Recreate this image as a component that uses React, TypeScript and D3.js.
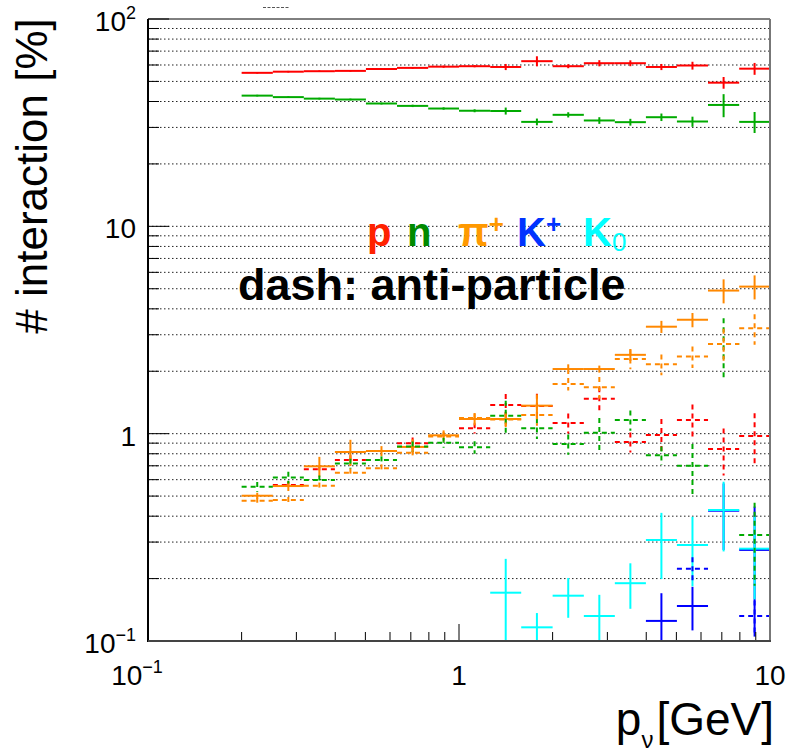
import React, { useEffect } from 'react'
import * as d3 from 'd3'

const width = 787
const height = 755
const plot = { left: 148, right: 770, top: 19, bottom: 641 }

// momentum bins [GeV], 0.1 decade wide
const binEdges = [0.2, 0.252, 0.317, 0.399, 0.502, 0.632, 0.796, 1.0, 1.26, 1.585, 2.0, 2.52, 3.17, 3.99, 5.02, 6.32, 7.96, 10.0]

// particles (solid)
const protonVal = [55.0, 55.7, 56.0, 56.2, 57.4, 58.1, 58.9, 59.2, 58.7, 62.6, 59.2, 61.2, 61.2, 58.7, 59.6, 49.3, 57.6]
const protonErr = [0.5, 0.5, 0.5, 0.5, 0.6, 0.6, 0.7, 0.7, 2.0, 3.5, 1.3, 2.1, 2.0, 2.0, 2.6, 3.2, 3.8]
const neutronVal = [42.7, 42.0, 41.3, 40.9, 39.1, 38.1, 37.0, 36.1, 36.0, 31.9, 34.5, 32.4, 31.8, 33.6, 32.0, 38.5, 31.9]
const neutronErr = [0.4, 0.4, 0.4, 0.4, 0.4, 0.5, 0.5, 0.6, 1.4, 1.2, 1.0, 1.2, 1.2, 1.4, 1.8, 4.9, 3.7]
const piPlusVal = [0.502, 0.559, 0.696, 0.816, 0.825, 0.863, 0.982, 1.177, 1.177, 1.365, 2.05, 2.05, 2.40, 3.28, 3.54, 4.90, 5.12]
const piPlusErr = [0.017, 0.03, 0.077, 0.118, 0.046, 0.077, 0.055, 0.08, 0.1, 0.18, 0.11, 0.08, 0.16, 0.22, 0.28, 0.65, 0.68]
const kPlusVal = [null, null, null, null, null, null, null, null, null, null, null, null, null, 0.125, 0.1475, 0.425, 0.275]
const kPlusErr = [0, 0, 0, 0, 0, 0, 0, 0, 0, 0, 0, 0, 0, 0.045, 0.035, 0.15, 0.17]
const k0Val = [null, null, null, null, null, null, null, null, 0.171, 0.1164, 0.1654, 0.132, 0.19, 0.307, 0.2904, 0.4284, 0.2788]
const k0Err = [0, 0, 0, 0, 0, 0, 0, 0, 0.078, 0.02, 0.036, 0.035, 0.047, 0.108, 0.107, 0.158, 0.12]

// anti-particles (dashed)
const pbarVal = [null, 0.566, 0.673, 0.747, null, 0.899, null, 1.062, 1.375, 1.36, 1.126, 1.475, 0.912, 0.986, 1.164, 0.844, 0.975]
const pbarErr = [0, 0.02, 0.03, 0.04, 0, 0.06, 0, 0.06, 0.18, 0.2, 0.125, 0.2, 0.1, 0.19, 0.22, 0.215, 0.28]
const nbarVal = [0.555, 0.615, 0.598, 0.717, 0.747, 0.866, 0.905, 0.860, 1.221, 1.062, 0.892, 1.011, 1.164, 0.787, 0.701, 2.707, 0.3245]
const nbarErr = [0.03, 0.04, 0.03, 0.04, 0.03, 0.05, 0.05, 0.06, 0.22, 0.12, 0.1, 0.18, 0.13, 0.08, 0.19, 0.9, 0.14]
const piMinusVal = [0.475, 0.479, 0.561, 0.648, 0.681, 0.810, 0.97, 1.19, 1.17, 1.231, 1.737, 1.674, 2.293, 2.162, 2.353, 2.707, 3.224]
const piMinusErr = [0.016, 0.016, 0.02, 0.03, 0.03, 0.04, 0.05, 0.06, 0.08, 0.14, 0.12, 0.2, 0.25, 0.25, 0.28, 0.5, 0.54]
const kMinusVal = [null, null, null, null, null, null, null, null, null, null, null, null, null, null, 0.2233, null, 0.132]
const kMinusErr = [0, 0, 0, 0, 0, 0, 0, 0, 0, 0, 0, 0, 0, 0, 0.03, 0, 0.025]

const yTickLabels = [
  { v: 100, base: '10', exp: '2' },
  { v: 10, base: '10', exp: '' },
  { v: 1, base: '1', exp: '' },
  { v: 0.1, base: '10', exp: '\u22121' },
]
const xTickLabels = [
  { v: 0.1, base: '10', exp: '\u22121' },
  { v: 1, base: '1', exp: '' },
  { v: 10, base: '10', exp: '' },
]

// draw order matters for overlaps
const series = [
  { id: 'pbar', color: '#ff0000', dashed: true, val: pbarVal, err: pbarErr },
  { id: 'p', color: '#ff0000', dashed: false, val: protonVal, err: protonErr },
  { id: 'n', color: '#00aa00', dashed: false, val: neutronVal, err: neutronErr },
  { id: 'pip', color: '#ff8800', dashed: false, val: piPlusVal, err: piPlusErr },
  { id: 'kp', color: '#0000ff', dashed: false, val: kPlusVal, err: kPlusErr },
  { id: 'k0', color: '#00ffff', dashed: false, val: k0Val, err: k0Err },
  { id: 'nbar', color: '#00aa00', dashed: true, val: nbarVal, err: nbarErr },
  { id: 'pim', color: '#ff8800', dashed: true, val: piMinusVal, err: piMinusErr },
  { id: 'km', color: '#0000ff', dashed: true, val: kMinusVal, err: kMinusErr },
]

const font = '"Liberation Sans", Arial, Helvetica, sans-serif'

export default function App() {
  useEffect(() => {
    document.body.style.margin = '0'
  }, [])

  const x = d3.scaleLog().domain([0.1, 10]).range([plot.left, plot.right])
  const y = d3.scaleLog().domain([0.1, 100]).range([plot.bottom, plot.top])

  const isMajor = (t: number) => Math.abs(Math.log10(t) - Math.round(Math.log10(t))) < 1e-6
  const yTicks = y.ticks()
  const xTicks = x.ticks()

  return (
    <svg width={width} height={height} style={{ display: 'block', background: '#fff' }} fontFamily={font}>
      <defs>
        <clipPath id="plotArea">
          <rect x={plot.left} y={plot.top} width={plot.right - plot.left} height={plot.bottom - plot.top} />
        </clipPath>
      </defs>

      {/* horizontal dotted grid */}
      {yTicks.filter(t => t > 0.1 && t < 100).map((t, i) => (
        <line key={'g' + i} x1={plot.left} x2={plot.right} y1={y(t)} y2={y(t)}
          stroke="#222" strokeWidth={1} strokeDasharray="1.5,2.5" />
      ))}

      {/* histograms drawn as error crosses */}
      <g clipPath="url(#plotArea)">
        {series.map(s => (
          <g key={s.id} stroke={s.color} strokeWidth={2} strokeDasharray={s.dashed ? '5,4' : undefined}>
            {s.val.map((v, i) => {
              if (v == null) return null
              const lo = binEdges[i], hi = binEdges[i + 1]
              const cx = x(Math.sqrt(lo * hi))
              const cy = y(v)
              const e = s.err[i]
              const yTop = y(v + e)
              const yBot = v - e > 0 ? y(v - e) : plot.bottom + 10
              return (
                <g key={i}>
                  <line x1={x(lo)} x2={x(hi)} y1={cy} y2={cy} />
                  <line x1={cx} x2={cx} y1={yTop} y2={yBot} />
                </g>
              )
            })}
          </g>
        ))}
      </g>

      {/* y axis ticks */}
      {yTicks.map((t, i) => (
        <line key={'yt' + i} x1={plot.left} x2={plot.left + (isMajor(t) ? 21 : 11)} y1={y(t)} y2={y(t)}
          stroke="#000" strokeWidth={1} />
      ))}
      {/* x axis ticks */}
      {xTicks.map((t, i) => (
        <line key={'xt' + i} x1={x(t)} x2={x(t)} y1={plot.bottom} y2={plot.bottom - (isMajor(t) ? 17 : 9)}
          stroke="#000" strokeWidth={1} />
      ))}

      {/* frame */}
      <line x1={plot.left} x2={plot.right} y1={plot.top} y2={plot.top} stroke="#000" strokeWidth={1} />
      <line x1={plot.right} x2={plot.right} y1={plot.top} y2={plot.bottom} stroke="#777" strokeWidth={2} />
      <line x1={plot.left} x2={plot.left} y1={plot.top} y2={plot.bottom + 1} stroke="#000" strokeWidth={2} />
      <line x1={plot.left} x2={plot.right + 1} y1={plot.bottom} y2={plot.bottom} stroke="#444" strokeWidth={2} />

      {/* y tick labels */}
      {yTickLabels.map((l, i) => (
        <text key={'yl' + i} x={136} y={y(l.v) + 12} textAnchor="end" fontSize={28} fill="#000">
          {l.base}
          {l.exp && <tspan dy={-12} fontSize={18}>{l.exp}</tspan>}
        </text>
      ))}
      {/* x tick labels */}
      {xTickLabels.map((l, i) => (
        <text key={'xl' + i} x={x(l.v) + (l.exp ? -11 : 0)} y={685} textAnchor="middle" fontSize={28} fill="#000">
          {l.base}
          {l.exp && <tspan dy={-12} fontSize={18}>{l.exp}</tspan>}
        </text>
      ))}

      {/* axis titles */}
      <text transform="translate(47,176) rotate(-90)" textAnchor="middle" fontSize={44} fill="#000">
        # interaction [%]
      </text>
      <text x={774} y={735} textAnchor="end" fontSize={46} fill="#000">
        p<tspan dy={13} fontSize={24}>ν</tspan><tspan dy={-13} dx={3}>[GeV]</tspan>
      </text>

      {/* legend text */}
      <g fontWeight="bold" fontSize={40}>
        <text x={367} y={246} fill="#ff2200">p</text>
        <text x={407} y={246} fill="#008a00">n</text>
        <text x={458} y={246} fill="#ff9900">π<tspan dy={-13} fontSize={26}>+</tspan></text>
        <text x={517} y={246} fill="#0033ff">K<tspan dy={-13} fontSize={26}>+</tspan></text>
        <text x={583} y={246} fill="#00ffff">K<tspan dy={5} fontSize={26} fontWeight="normal">0</tspan></text>
      </g>
      <text x={238} y={300} fontWeight="bold" fontSize={45} fill="#000">dash: anti-particle</text>

      {/* clipped title remnant */}
      <line x1={263} x2={290} y1={7.5} y2={7.5} stroke="#555" strokeWidth={1} strokeDasharray="3,1.5" />
    </svg>
  )
}
